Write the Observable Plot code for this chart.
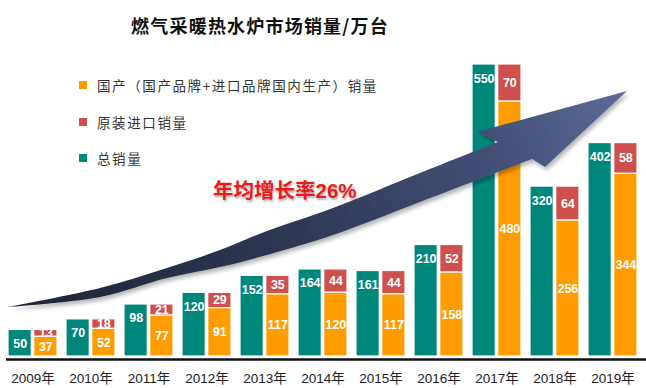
<!DOCTYPE html>
<html><head><meta charset="utf-8">
<script src="https://cdn.jsdelivr.net/npm/d3@7"></script>
<script src="https://cdn.jsdelivr.net/npm/@observablehq/plot@0.6"></script>
<style>
body{margin:0;background:#fff;}
#wrap{position:relative;width:646px;height:388px;overflow:hidden;font-family:"Noto Sans CJK SC",sans-serif;background:#fff;}
#title{height:45px;width:520px;text-align:center;line-height:50px;font-size:18px;font-weight:bold;letter-spacing:1.2px;color:#111;}
#chart svg{display:block;}
.leg{position:absolute;left:79px;height:20px;display:flex;align-items:center;font-size:13.5px;letter-spacing:1.6px;color:#333;}
.leg span.sw{width:8px;height:8px;margin-right:10px;flex:none;}
#growth{position:absolute;left:213px;top:174px;font-family:"Liberation Sans","Noto Sans CJK SC",sans-serif;font-weight:bold;font-size:20.5px;color:#ee1a1a;text-shadow:1px 2px 2px rgba(0,0,0,0.3);white-space:nowrap;}
</style></head><body>
<div id="wrap">
  <div id="title"></div>
  <div id="chart"></div>
  <div id="legend"></div>
  <div id="growth"></div>
</div>
<script>
const years = [2009, 2010, 2011, 2012, 2013, 2014, 2015, 2016, 2017, 2018, 2019];
const total = [50, 70, 98, 120, 152, 164, 161, 210, 550, 320, 402];
const domestic = [37, 52, 77, 91, 117, 120, 117, 158, 480, 256, 344];
const imported = [13, 18, 21, 29, 35, 44, 44, 52, 70, 64, 58];
const seriesNames = ["国产（国产品牌+进口品牌国内生产）销量", "原装进口销量", "总销量"];
const seriesColors = ["#ff9d00", "#cf4f4d", "#00877c"];
const titleText = "燃气采暖热水炉市场销量/万台";
const growthText = "年均增长率26%";
const yearSuffix = "年";

document.getElementById("title").textContent = titleText;
document.getElementById("growth").textContent = growthText;

const legend = document.getElementById("legend");
const legTops = [75, 112, 148];
seriesNames.forEach((name, i) => {
  const d = document.createElement("div");
  d.className = "leg";
  d.style.top = legTops[i] + "px";
  d.innerHTML = `<span class="sw" style="background:${seriesColors[i]}"></span><span>${name}</span>`;
  legend.appendChild(d);
});

const rows = years.map((y, i) => ({
  year: y, total: total[i], domestic: domestic[i], imported: imported[i],
  top: domestic[i] + imported[i]
}));

const W = 646, H = 343, ML = 7, MR = 8, MT = 19, MB = 32;
const xs = Plot.scale({x: {type: "band", domain: years, range: [ML, W - MR], paddingInner: 0.15, paddingOuter: 0}});
const half = xs.bandwidth / 2;
const gap = 1;
const dxo = (half + gap) / 2;
const [cOrange, cRed, cTeal] = seriesColors;
const labelFont = {fill: "white", fontWeight: "bold", fontSize: 12.5, fontFamily: "Liberation Sans, Arial, sans-serif"};

const chart = Plot.plot({
  width: W, height: H, marginLeft: ML, marginRight: MR, marginTop: MT, marginBottom: MB,
  x: {type: "band", domain: years, paddingInner: 0.15, paddingOuter: 0, label: null},
  y: {domain: [0, 550], axis: null},
  style: {fontFamily: "Liberation Sans, Noto Sans CJK SC, sans-serif", background: "transparent", color: "#222", overflow: "visible"},
  marks: [
    Plot.barY(rows, {x: "year", y1: 0, y2: "total", fill: cTeal, stroke: "white", strokeWidth: 1.2, insetRight: half + gap}),
    Plot.text(rows, {x: "year", y: "total", text: d => String(d.total), dx: -dxo, dy: 14, ...labelFont}),
    Plot.barY(rows, {x: "year", y1: "domestic", y2: "top", fill: cRed, stroke: "white", strokeWidth: 1.2, insetLeft: half + gap}),
    Plot.text(rows, {x: "year", y: d => d.domestic + d.imported / 2, text: d => String(d.imported), dx: dxo, ...labelFont}),
    Plot.barY(rows, {x: "year", y1: 0, y2: "domestic", fill: cOrange, stroke: "white", strokeWidth: 1.2, insetLeft: half + gap}),
    Plot.text(rows, {x: "year", y: d => d.domestic / 2, text: d => String(d.domestic), dx: dxo, ...labelFont}),
    Plot.ruleY([0], {dy: 3, stroke: "#111", strokeWidth: 2.5, insetLeft: -1, insetRight: -MR}),
    Plot.axisX({tickSize: 0, tickPadding: 17, fontSize: 13.5, label: null, tickFormat: d => d + yearSuffix})
  ]
});
document.getElementById("chart").appendChild(chart);

// decorative growth arrow (page coordinates shifted into the svg)
const svg = d3.select(chart);
const off = 45;
const defs = svg.append("defs");
const g = defs.append("linearGradient").attr("id", "arrGrad").attr("gradientUnits", "userSpaceOnUse")
  .attr("x1", 8).attr("y1", 307 - off).attr("x2", 627).attr("y2", 91 - off);
[[0, "#1e2436"], [0.45, "#2e3854"], [0.8, "#45527a"], [1, "#5c6b98"]].forEach(([o, c]) =>
  g.append("stop").attr("offset", o).attr("stop-color", c));
const f = defs.append("filter").attr("id", "arrShadow").attr("x", "-10%").attr("y", "-10%").attr("width", "130%").attr("height", "140%");
f.append("feDropShadow").attr("dx", 2).attr("dy", 3).attr("stdDeviation", 2).attr("flood-color", "#000").attr("flood-opacity", 0.3);

const upper = [[8, 307], [100, 288], [167, 268], [220, 250], [267, 231], [333, 208], [420, 173], [498, 142]];
const head = [[477, 132], [627, 91], [545, 167], [532, 159]];
const lower = [[532, 159], [420, 202], [333, 235], [267, 255], [220, 267], [167, 278], [100, 297], [8, 307]];
const sh = p => p.map(([x, y]) => [x, y - off]);
const line = d3.line().curve(d3.curveCatmullRom.alpha(0.5));
const up = line(sh(upper));
const lo = line(sh(lower)).replace(/^M/, "L");
const hd = sh(head).map(([x, y]) => `L${x},${y}`).join("");
svg.append("path").attr("d", up + hd + lo + "Z").attr("fill", "url(#arrGrad)").attr("filter", "url(#arrShadow)");
</script>
</body></html>
